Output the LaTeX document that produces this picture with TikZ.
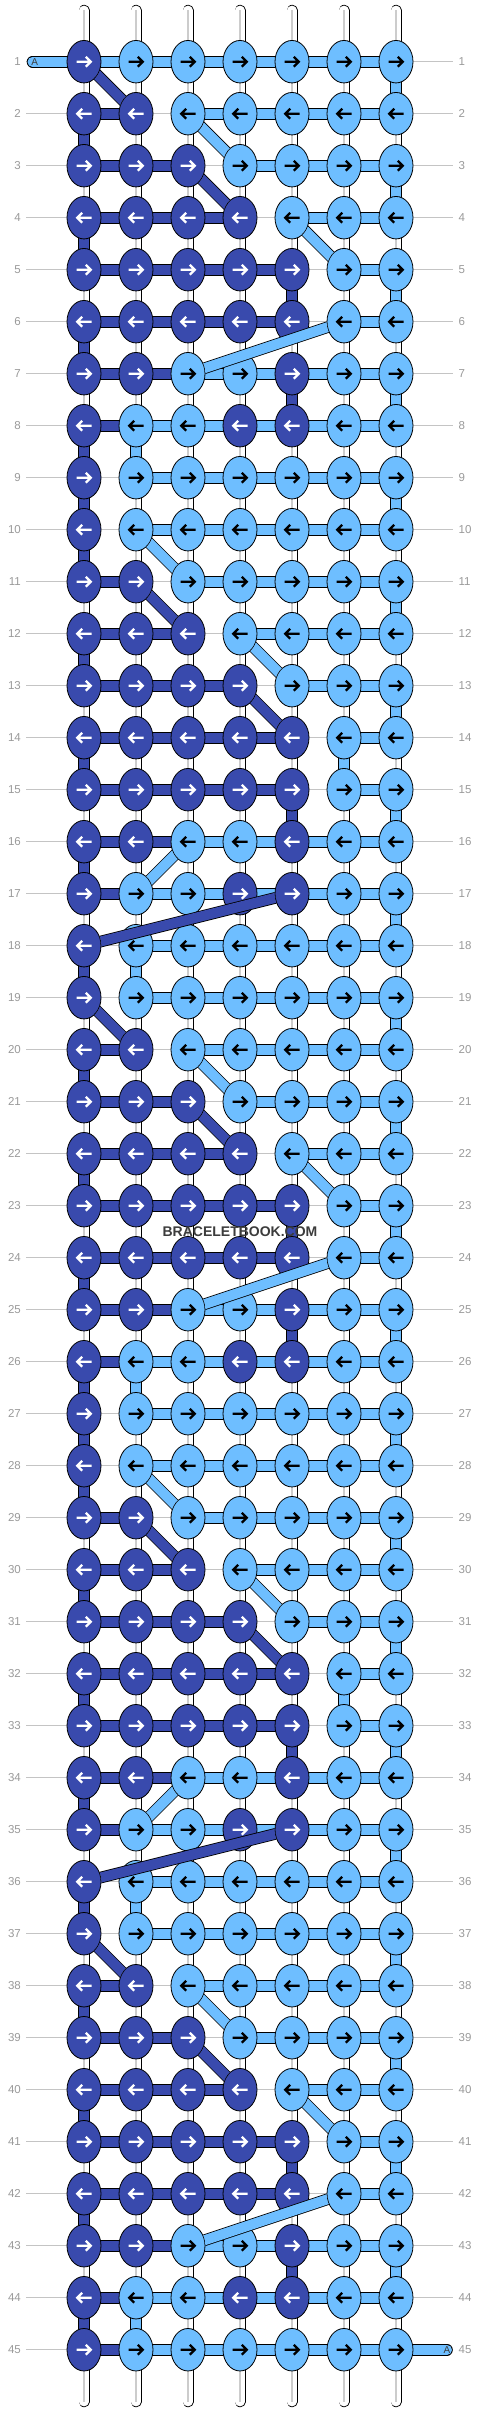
\documentclass[tikz,border=0pt]{standalone}
\usepackage{fontspec}
\setmainfont{Liberation Sans}
\usetikzlibrary{shapes.geometric}
\definecolor{cD}{HTML}{394AAD}
\definecolor{cL}{HTML}{6EBEFF}
\definecolor{labgray}{HTML}{9A9A9A}
\definecolor{rowgray}{HTML}{C4C4C4}
\definecolor{wmgray}{HTML}{3C3C3C}
\definecolor{strandline}{HTML}{CCCCCC}
\pgfdeclarelayer{bot}
\pgfdeclarelayer{bg}
\pgfsetlayers{bot,bg,main}
\tikzset{
  knot/.style={ellipse, draw=black, line width=0.8pt, minimum width=34pt, minimum height=42.5pt, inner sep=0pt},
  kD/.style={knot, fill=cD}, kL/.style={knot, fill=cL},
  arrowmark/.style={line width=2.3pt, line join=miter},
  aD/.style={arrowmark, draw=white}, aL/.style={arrowmark, draw=black},
  band/.style={draw=black, line width=0.8pt, double distance=10pt},
  bD/.style={band, double=cD}, bL/.style={band, double=cL},
  bN/.style={}, bW/.style={},
  lab/.style={font=\fontsize{11.5}{13}\selectfont, text=labgray, inner sep=0pt},
  rowline/.style={draw=rowgray, line width=0.9pt},
  strand/.style={draw=black, double=white, double distance=9.4pt, line width=0.8pt, line cap=round},
}
\newcommand\knotrow[8]{%
  \pgfmathsetmacro\yy{61.7+52*(#1-1)}%
  \pgfmathtruncatemacro\sx{1-2*mod(#1+1,2)}%
  \foreach \c/\k in {1/#2,2/#3,3/#4,4/#5,5/#6,6/#7,7/#8}{%
    \pgfmathsetmacro\xx{84+52*(\c-1)}%
    \node[k\k] (k-#1-\c) at (\xx,\yy) {};
    \draw[a\k, shift={(k-#1-\c.center)}, xscale=\sx] (-7.5,0) -- (6.5,0) (1.8,-5) -- (6.8,0) -- (1.8,5);
  }%
  \node[lab, anchor=east] (ll-#1) at (21,\yy) {#1};
  \node[lab, anchor=west] (rl-#1) at (458.5,\yy) {#1};
  \begin{pgfonlayer}{bot}
    \draw[rowline, shorten <=5pt, shorten >=5.5pt] (ll-#1.east) -- (rl-#1.west);
  \end{pgfonlayer}%
}
\newcommand\barrow[7]{%
  \begin{pgfonlayer}{bg}
  \foreach \c/\b in {1/#2,2/#3,3/#4,4/#5,5/#6,6/#7}{%
    \pgfmathtruncatemacro\cn{\c+1}%
    \path[b\b] (k-#1-\c.center) -- (k-#1-\cn.center);
  }%
  \end{pgfonlayer}%
}
\newcommand\vertrow[8]{%
  \pgfmathtruncatemacro\rp{#1-1}%
  \begin{pgfonlayer}{bg}
  \foreach \c/\v in {1/#2,2/#3,3/#4,4/#5,5/#6,6/#7,7/#8}{%
    \path[b\v] (k-\rp-\c.center) -- (k-#1-\c.center);
  }%
  \end{pgfonlayer}%
}
\newcommand\patrow[4]{\knotrow{#1}#2\barrow{#1}#3\vertrow{#1}#4}
\begin{document}
\begin{tikzpicture}[x=1pt,y=-1pt]
\begin{pgfonlayer}{bot}
  \fill[white] (0,0) rectangle (480,2412);
\end{pgfonlayer}
\useasboundingbox (0,0) rectangle (480,2412);
% vertical strands
\foreach \c in {1,...,7}{
  \pgfmathsetmacro\xx{84+52*(\c-1)}
  \coordinate (top-\c) at (\xx,10.3);
  \coordinate (bot-\c) at (\xx,2401.7);
  \begin{pgfonlayer}{bot}
    \path[strand] (top-\c) -- (bot-\c);
    \draw[strandline, line width=1.7pt, shorten <=-0.5pt, shorten >=-0.5pt] (top-\c) -- (bot-\c);
  \end{pgfonlayer}
}
% rows
\knotrow{1}DLLLLLL\barrow{1}LLLLLL
\patrow{2}{DDLLLLL}{DNLLLL}{WWWWWWL}
\patrow{3}{DDDLLLL}{DDNLLL}{DWWWWWW}
\patrow{4}{DDDDLLL}{DDDNLL}{WWWWWWL}
\patrow{5}{DDDDDLL}{DDDDNL}{DWWWWWW}
\patrow{6}{DDDDDLL}{DDDDNL}{WWWWDWL}
\patrow{7}{DDLLDLL}{DDLLLL}{DWWWWWW}
\patrow{8}{DLLDDLL}{DLLLLL}{WWWWDWL}
\patrow{9}{DLLLLLL}{NLLLLL}{DLWWWWW}
\patrow{10}{DLLLLLL}{NLLLLL}{DWWWWWL}
\patrow{11}{DDLLLLL}{DNLLLL}{DWWWWWW}
\patrow{12}{DDDLLLL}{DDNLLL}{WWWWWWL}
\patrow{13}{DDDDLLL}{DDDNLL}{DWWWWWW}
\patrow{14}{DDDDDLL}{DDDDNL}{WWWWWWL}
\patrow{15}{DDDDDLL}{DDDDNL}{DWWWWLW}
\patrow{16}{DDLLDLL}{DDLLLL}{WWWWDWL}
\patrow{17}{DLLDDLL}{DLLLLL}{DWWWWWW}
\patrow{18}{DLLLLLL}{NLLLLL}{WWWWWWL}
\patrow{19}{DLLLLLL}{NLLLLL}{DLWWWWW}
\patrow{20}{DDLLLLL}{DNLLLL}{WWWWWWL}
\patrow{21}{DDDLLLL}{DDNLLL}{DWWWWWW}
\patrow{22}{DDDDLLL}{DDDNLL}{WWWWWWL}
\patrow{23}{DDDDDLL}{DDDDNL}{DWWWWWW}
\patrow{24}{DDDDDLL}{DDDDNL}{WWWWDWL}
\patrow{25}{DDLLDLL}{DDLLLL}{DWWWWWW}
\patrow{26}{DLLDDLL}{DLLLLL}{WWWWDWL}
\patrow{27}{DLLLLLL}{NLLLLL}{DLWWWWW}
\patrow{28}{DLLLLLL}{NLLLLL}{DWWWWWL}
\patrow{29}{DDLLLLL}{DNLLLL}{DWWWWWW}
\patrow{30}{DDDLLLL}{DDNLLL}{WWWWWWL}
\patrow{31}{DDDDLLL}{DDDNLL}{DWWWWWW}
\patrow{32}{DDDDDLL}{DDDDNL}{WWWWWWL}
\patrow{33}{DDDDDLL}{DDDDNL}{DWWWWLW}
\patrow{34}{DDLLDLL}{DDLLLL}{WWWWDWL}
\patrow{35}{DLLDDLL}{DLLLLL}{DWWWWWW}
\patrow{36}{DLLLLLL}{NLLLLL}{WWWWWWL}
\patrow{37}{DLLLLLL}{NLLLLL}{DLWWWWW}
\patrow{38}{DDLLLLL}{DNLLLL}{WWWWWWL}
\patrow{39}{DDDLLLL}{DDNLLL}{DWWWWWW}
\patrow{40}{DDDDLLL}{DDDNLL}{WWWWWWL}
\patrow{41}{DDDDDLL}{DDDDNL}{DWWWWWW}
\patrow{42}{DDDDDLL}{DDDDNL}{WWWWDWL}
\patrow{43}{DDLLDLL}{DDLLLL}{DWWWWWW}
\patrow{44}{DLLDDLL}{DLLLLL}{WWWWDWL}
\patrow{45}{DLLLLLL}{DLLLLL}{DLWWWWW}
% lead ends "A"
\coordinate (leadA) at (32.5,61.7);
\coordinate (endA) at (447,2349.7);
\begin{pgfonlayer}{bg}
  \path[bL, line cap=round] (leadA) -- (k-1-1.center);
  \path[bL, line cap=round] (k-45-7.center) -- (endA);
\end{pgfonlayer}
\node[font=\fontsize{10}{11}\selectfont, text=wmgray, inner sep=0pt] (labA1) at (34.7,61.7) {A};
\node[font=\fontsize{10}{11}\selectfont, text=wmgray, inner sep=0pt] (labA2) at (447,2349.7) {A};
% diagonal transfers
\foreach \ra/\ca/\rb/\cb/\cc in {
  1/1/2/2/D, 2/3/3/4/L, 3/3/4/4/D, 4/5/5/6/L, 6/6/7/3/L, 10/2/11/3/L, 11/2/12/3/D,
  12/4/13/5/L, 13/4/14/5/D, 16/3/17/2/L, 17/5/18/1/D,
  19/1/20/2/D, 20/3/21/4/L, 21/3/22/4/D, 22/5/23/6/L, 24/6/25/3/L, 28/2/29/3/L, 29/2/30/3/D,
  30/4/31/5/L, 31/4/32/5/D, 34/3/35/2/L, 35/5/36/1/D,
  37/1/38/2/D, 38/3/39/4/L, 39/3/40/4/D, 40/5/41/6/L, 42/6/43/3/L}{
  \begin{scope}[even odd rule]
    \clip (-10,-10) rectangle (490,2422)
      (k-\ra-\ca.center) ellipse [x radius=17.4, y radius=21.6]
      (k-\rb-\cb.center) ellipse [x radius=17.4, y radius=21.6];
    \path[b\cc] (k-\ra-\ca.center) -- (k-\rb-\cb.center);
  \end{scope}
}
% watermark
\node[font=\fontsize{14}{16}\selectfont\bfseries, text=wmgray, inner sep=0pt] (wm) at (240,1231.5) {BRACELETBOOK.COM};
\end{tikzpicture}
\end{document}
